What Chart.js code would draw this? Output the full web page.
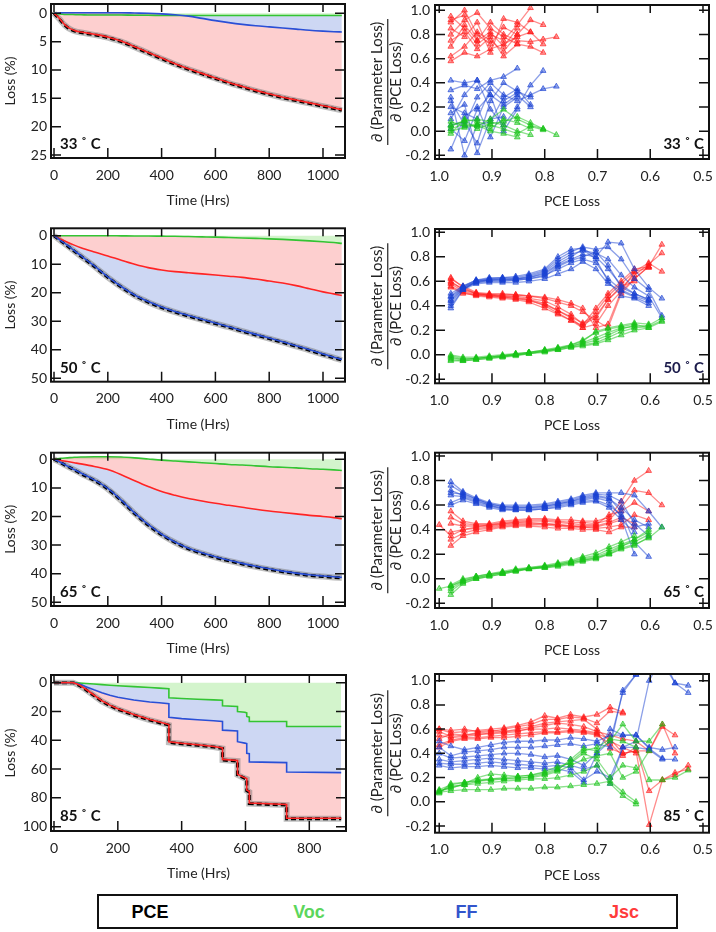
<!DOCTYPE html>
<html><head><meta charset="utf-8">
<script src="https://cdn.jsdelivr.net/npm/chart.js@4.4.1/dist/chart.umd.min.js"></script>
<style>
html,body{margin:0;padding:0;background:#fff;}
body{width:716px;height:932px;position:relative;overflow:hidden;font-family:Lato,sans-serif;}
canvas{position:absolute;}
.ann{position:absolute;font:bold 15px Lato,sans-serif;color:#111;line-height:18px;white-space:nowrap;transform:translateY(-50%);}
#legend{position:absolute;left:97px;top:894px;width:577px;height:31px;border:2px solid #111;box-sizing:content-box;}
#legend span{position:absolute;top:50%;transform:translate(-50%,-50%);font:bold 18px 'Liberation Sans',Arial,sans-serif;white-space:nowrap;}
</style></head>
<body>
<canvas id="c1l" width="355" height="215" style="left:0;top:0"></canvas>
<canvas id="c1r" width="361" height="215" style="left:355px;top:0"></canvas>
<canvas id="c2l" width="355" height="225" style="left:0;top:215px"></canvas>
<canvas id="c2r" width="361" height="225" style="left:355px;top:215px"></canvas>
<canvas id="c3l" width="355" height="220" style="left:0;top:440px"></canvas>
<canvas id="c3r" width="361" height="220" style="left:355px;top:440px"></canvas>
<canvas id="c4l" width="355" height="225" style="left:0;top:660px"></canvas>
<canvas id="c4r" width="361" height="225" style="left:355px;top:660px"></canvas>
<div id="anns"></div>
<div id="legend"></div>
<script>
// ---------- tick labels / categories ----------
const timeTicks = [0,200,400,600,800,1000];
const timeTicks85 = [0,200,400,600,800];
const lossTicks33 = [0,5,10,15,20,25];
const lossTicks50 = [0,10,20,30,40,50];
const lossTicks85 = [0,20,40,60,80,100];
const pceLossTicks = [1.0,0.9,0.8,0.7,0.6,0.5];
const ratioTicks = [-0.2,0.0,0.2,0.4,0.6,0.8,1.0];
const panelLabels = ['33 ˚ C','50 ˚ C','65 ˚ C','85 ˚ C'];
const legendLabels = ['PCE','Voc','FF','Jsc'];

// ---------- left panels: cumulative loss (%) vs time ----------
const t33 = [0,10,20,30,40,50,60,80,100,125,150,175,200,250,300,350,400,450,500,550,600,650,700,750,800,850,900,950,1000,1040,1070];
const pce33 = [0,0.5,1.0,1.6,2.1,2.5,2.8,3.2,3.4,3.6,3.8,4.0,4.3,5.0,6.0,7.0,8.0,9.0,9.9,10.7,11.5,12.3,13.0,13.7,14.3,14.9,15.4,15.9,16.4,16.8,17.1];
const voc33 = [0,0.05,0.1,0.15,0.2,0.2,0.2,0.25,0.25,0.3,0.3,0.3,0.3,0.3,0.35,0.35,0.4,0.4,0.4,0.4,0.4,0.4,0.4,0.4,0.4,0.4,0.4,0.4,0.4,0.4,0.4];
const ff33 = [0,0,-0.05,-0.1,-0.1,-0.1,-0.1,-0.1,-0.1,-0.1,-0.1,-0.1,-0.1,-0.1,-0.05,0,0.1,0.25,0.5,0.9,1.3,1.65,1.95,2.2,2.4,2.6,2.8,3.0,3.15,3.25,3.3];
const jsc33 = [0,0.4,0.9,1.5,2.0,2.4,2.7,3.1,3.3,3.5,3.7,3.9,4.2,4.9,5.9,6.9,7.9,8.9,9.8,10.6,11.4,12.2,12.9,13.6,14.2,14.8,15.3,15.8,16.3,16.7,17.0];

const t50 = [0,25,50,75,100,150,200,250,300,350,400,450,500,550,600,650,700,750,800,850,900,950,1000,1040,1070];
const pce50 = [0,1.8,3.6,5.4,7.2,10.8,14.6,18.0,21.0,23.3,25.2,26.8,28.2,29.5,30.8,32.1,33.5,34.8,36.1,37.4,38.8,40.2,41.7,42.8,43.6];
const voc50 = [0,0,0,0,0,0,0,0.05,0.1,0.1,0.15,0.2,0.3,0.4,0.5,0.65,0.8,0.95,1.1,1.3,1.55,1.8,2.1,2.4,2.7];
const jsc50 = [0,1.2,2.3,3.3,4.2,5.7,7.1,8.6,10.0,11.2,12.0,12.6,13.0,13.4,13.8,14.2,14.6,15.2,15.9,16.6,17.5,18.6,19.7,20.4,21.0];
const ff50 = [0,1.7,3.4,5.2,7.0,10.6,14.4,17.8,20.8,23.1,25.0,26.6,28.0,29.3,30.6,31.9,33.3,34.6,35.9,37.2,38.6,40.0,41.5,42.6,43.4];

const t65 = [0,25,50,75,100,150,200,250,300,350,400,450,500,550,600,650,700,750,800,850,900,950,1000,1040,1070];
const pce65 = [0,1.2,2.5,3.7,5.0,7.4,10.4,14.5,19.0,23.0,26.4,29.1,31.3,32.9,34.3,35.5,36.6,37.6,38.5,39.3,40.0,40.6,41.0,41.3,41.5];
const voc65 = [0,-0.3,-0.5,-0.7,-0.8,-0.9,-0.9,-0.8,-0.5,-0.1,0.3,0.6,0.9,1.2,1.5,1.8,2.0,2.3,2.6,2.8,3.0,3.3,3.5,3.7,3.9];
const jsc65 = [0,0.4,0.8,1.2,1.6,2.5,3.6,5.4,7.5,9.5,11.3,12.6,13.7,14.6,15.4,16.1,16.8,17.5,18.1,18.6,19.1,19.6,20.0,20.4,20.8];
const ff65 = [0,1.1,2.4,3.6,4.8,7.2,10.2,14.3,18.8,22.8,26.2,28.9,31.1,32.7,34.1,35.3,36.4,37.4,38.3,39.1,39.8,40.4,40.8,41.1,41.3];

const t85 = [0,60,80,100,125,150,175,200,250,300,330,360,360,400,450,500,528,528,575,575,598,604,604,612,612,729,729,900];
const pce85 = [0,0,2,5,9,13,16,18.5,22.5,26,27.8,29.5,41.5,42.5,43.5,44.7,45.7,53.7,54.5,64,66.5,67,75,76,84,85,94.5,94.5];
const voc85 = [0,0,0.3,0.6,1,1.4,1.8,2.2,2.8,3.4,3.8,4.2,10.5,11,11.5,12,12.2,16,16.5,20,20.5,21,23.5,24,27,27,30.5,30.5];
const ff85 = [0,0,1,2.8,5,7,8.8,10.2,12,13.4,14,14.6,24,25,25.8,26.5,27,33,33.5,41,42,42.3,49,49.3,55,55.5,62,62.5];
const jsc85 = [0,0,1.7,4.6,8.6,12.6,15.6,18.1,22.1,25.6,27.4,29.1,41.1,42.1,43.1,44.3,45.3,53.3,54.1,63.6,66.1,66.6,74.6,75.6,83.6,84.6,94.1,94.1];

// ---------- right panels: d(param loss)/d(PCE loss) vs normalized PCE ----------
const pce33x = [0.978,0.952,0.928,0.903,0.878,0.852,0.827,0.803,0.778];
const jscRatio33 = [
 [0.95,0.85,0.72,0.80,0.75,0.88,1.02],
 [0.90,1.00,0.80,0.72,0.86,0.80],
 [0.80,0.92,0.98,0.85,0.78,0.72,0.70,0.65],
 [0.70,0.88,0.75,0.90,0.80,0.75,0.74,0.76,0.78],
 [0.62,0.70,0.82,0.75,0.66,0.80,0.92,0.88],
 [0.58,0.65,0.62,0.68,0.72,0.78,0.82],
 [0.85,0.78,0.90,0.65,0.93,0.90,0.82,0.72],
 [0.92,0.96,0.75,0.82,0.70,0.85],
 [0.75,0.82,0.68,0.78,0.62,0.72]];
const ffRatio33 = [
 [0.42,0.40,0.42,0.30,0.22,0.30,0.20],
 [0.34,0.38,0.35,0.42,0.45,0.52],
 [0.25,0.05,0.28,0.40,0.30,0.25,0.30,0.35,0.37],
 [0.20,0.15,0.10,0.35,0.25,0.32],
 [0.10,0.30,0.42,0.18,0.05,0.20,0.38,0.50],
 [0.05,0.08,-0.10,0.25,0.40,0.33,0.28],
 [-0.15,0.12,0.20,-0.05,0.20,0.28],
 [0.02,-0.08,0.18,0.30,0.00,0.18],
 [0.15,0.22,-0.18,0.10,0.12],
 [0.28,-0.20,0.05,0.08,0.28,0.35,0.22]];
const vocRatio33 = [
 [0.05,0.08,0.10,0.08,0.05,0.00,-0.03],
 [0.02,0.06,0.04,0.10,0.18,0.10,0.05,0.02,-0.03],
 [-0.02,0.10,0.08,0.05,0.02,-0.02,0.04,0.01],
 [0.08,0.04,0.06,0.02,0.10,0.07,0.02],
 [0.00,0.03,0.05,0.00,-0.02,-0.05],
 [0.04,0.09,0.02,0.06,0.08,0.12,0.07,0.02]];

const pce50x = [0.978,0.955,0.93,0.905,0.88,0.855,0.83,0.8,0.775,0.75,0.728,0.703,0.68,0.655,0.63,0.603,0.578];
const ffRatio50 = [
 [0.38,0.53,0.58,0.59,0.59,0.59,0.60,0.62,0.66,0.70,0.76,0.70,0.58,0.52,0.47,0.42],
 [0.42,0.54,0.59,0.60,0.60,0.61,0.62,0.65,0.70,0.75,0.78,0.75,0.62,0.53,0.48,0.44],
 [0.45,0.55,0.60,0.61,0.61,0.62,0.63,0.66,0.73,0.78,0.82,0.80,0.70,0.57,0.50,0.45],
 [0.47,0.55,0.60,0.62,0.62,0.62,0.64,0.68,0.76,0.82,0.85,0.83,0.78,0.65,0.55,0.48,0.30],
 [0.48,0.56,0.61,0.62,0.63,0.63,0.65,0.69,0.78,0.84,0.88,0.86,0.88,0.78,0.62,0.53,0.32],
 [0.50,0.56,0.61,0.63,0.63,0.64,0.66,0.70,0.80,0.86,0.87,0.80,0.92,0.91,0.70,0.55,0.46],
 [0.44,0.54,0.59,0.61,0.62,0.62,0.63,0.67,0.74,0.80,0.86,0.78,0.60,0.48,0.46,0.40],
 [0.40,0.53,0.60,0.61,0.61,0.61,0.62,0.64,0.72,0.77,0.80,0.84,0.73,0.55,0.50,0.45]];
const jscRatio50 = [
 [0.63,0.55,0.50,0.49,0.48,0.47,0.45,0.42,0.36,0.30,0.22,0.25,0.40,0.52,0.62,0.72,0.90],
 [0.60,0.53,0.50,0.49,0.48,0.48,0.46,0.44,0.39,0.33,0.25,0.30,0.45,0.55,0.65,0.74,0.83],
 [0.58,0.52,0.49,0.48,0.47,0.46,0.45,0.40,0.34,0.28,0.22,0.35,0.48,0.58,0.68,0.75,0.68],
 [0.56,0.51,0.48,0.47,0.46,0.45,0.43,0.38,0.33,0.28,0.24,0.38,0.50,0.60,0.70,0.72],
 [0.62,0.56,0.51,0.50,0.50,0.49,0.48,0.46,0.43,0.40,0.35,0.28,0.22,0.50,0.62,0.72],
 [0.59,0.54,0.50,0.49,0.49,0.49,0.48,0.47,0.45,0.42,0.38,0.22,0.25,0.52,0.68,0.71],
 [0.55,0.50,0.49,0.48,0.47,0.46,0.44,0.41,0.36,0.31,0.26,0.32,0.45,0.56,0.60]];
const vocRatio50 = [
 [-0.05,-0.05,-0.04,-0.03,-0.02,-0.01,0.01,0.03,0.04,0.06,0.08,0.10,0.14,0.19,0.22,0.23,0.28],
 [-0.03,-0.04,-0.03,-0.02,-0.01,0.00,0.02,0.03,0.05,0.07,0.10,0.14,0.18,0.22,0.23,0.24,0.30],
 [-0.01,-0.03,-0.03,-0.02,-0.01,0.01,0.02,0.04,0.05,0.08,0.12,0.18,0.21,0.23,0.25,0.22,0.27],
 [-0.04,-0.05,-0.04,-0.03,-0.02,0.00,0.01,0.02,0.04,0.06,0.07,0.09,0.12,0.16,0.20,0.22],
 [0.00,-0.02,-0.02,-0.01,0.00,0.01,0.02,0.04,0.06,0.08,0.11,0.19,0.22,0.24,0.26,0.25],
 [-0.02,-0.04,-0.03,-0.02,-0.01,0.00,0.01,0.03,0.05,0.07,0.09,0.12,0.16,0.21,0.24]];

const pce65x = [1.0,0.978,0.955,0.93,0.905,0.88,0.855,0.83,0.8,0.775,0.75,0.728,0.703,0.678,0.655,0.63,0.603,0.578];
const ffRatio65 = [
 [null,0.79,0.71,0.66,0.62,0.60,0.60,0.60,0.61,0.63,0.65,0.68,0.70,0.70,0.70,0.68,0.55,0.42],
 [null,0.76,0.70,0.65,0.61,0.59,0.59,0.59,0.60,0.62,0.64,0.67,0.69,0.68,0.63,0.45,0.35],
 [null,0.72,0.68,0.64,0.60,0.58,0.58,0.58,0.59,0.61,0.63,0.66,0.68,0.66,0.55,0.30,0.18],
 [null,0.68,0.67,0.63,0.60,0.57,0.57,0.57,0.58,0.60,0.62,0.64,0.66,0.63,0.50,0.20],
 [null,0.62,0.66,0.62,0.59,0.57,0.56,0.56,0.57,0.59,0.61,0.63,0.64,0.60,0.52,0.42,0.45],
 [null,0.60,0.64,0.61,0.58,0.56,0.56,0.56,0.57,0.58,0.60,0.62,0.63,0.58,0.48,0.38],
 [null,0.70,0.69,0.65,0.61,0.59,0.58,0.58,0.59,0.61,0.63,0.65,0.67,0.65,0.58,0.48,0.42]];
const jscRatio65 = [
 [0.44,0.35,0.40,0.42,0.44,0.45,0.46,0.46,0.45,0.44,0.43,0.42,0.42,0.45,0.48],
 [null,0.55,0.47,0.45,0.45,0.47,0.48,0.49,0.49,0.48,0.48,0.47,0.47,0.50,0.63,0.80,0.88],
 [null,0.50,0.45,0.44,0.44,0.46,0.47,0.48,0.48,0.47,0.46,0.46,0.45,0.48,0.58,0.72,0.70,0.60],
 [null,0.45,0.43,0.43,0.43,0.45,0.46,0.47,0.47,0.46,0.45,0.44,0.44,0.52,0.55,0.62,0.55],
 [null,0.38,0.40,0.41,0.42,0.44,0.45,0.45,0.45,0.44,0.43,0.43,0.43,0.46,0.50,0.45],
 [null,0.32,0.37,0.40,0.41,0.43,0.44,0.44,0.44,0.43,0.42,0.42,0.41,0.42,0.44,0.52,0.48],
 [null,0.27,0.35,0.38,0.40,0.42,0.43,0.43,0.42,0.41,0.41,0.40,0.40,0.38,0.42,0.42]];
const vocRatio65 = [
 [-0.08,-0.06,-0.02,0.01,0.03,0.05,0.07,0.08,0.10,0.11,0.13,0.15,0.17,0.20,0.25,0.28,0.33,0.42],
 [null,-0.05,0.00,0.02,0.04,0.05,0.07,0.09,0.10,0.12,0.14,0.17,0.19,0.24,0.28,0.32,0.38],
 [null,-0.08,-0.02,0.01,0.03,0.05,0.07,0.08,0.10,0.12,0.14,0.16,0.18,0.22,0.27,0.30,0.36],
 [null,-0.10,-0.03,0.00,0.02,0.04,0.06,0.08,0.09,0.11,0.13,0.15,0.17,0.21,0.26,0.32,0.40],
 [null,-0.13,-0.04,0.00,0.02,0.04,0.06,0.08,0.09,0.10,0.12,0.14,0.16,0.20,0.24,0.27,0.34],
 [null,-0.06,-0.01,0.02,0.04,0.06,0.08,0.09,0.11,0.13,0.15,0.18,0.21,0.26,0.30,0.35]];

const pce85x = [1.0,0.978,0.952,0.927,0.902,0.877,0.851,0.826,0.8,0.776,0.751,0.726,0.701,0.676,0.652,0.627,0.602,0.577,0.553,0.528];
const ffRatio85 = [
 [0.50,0.46,0.43,0.45,0.47,0.49,0.50,0.50,0.51,0.51,0.53,0.52,0.50,0.55,0.55,0.55,0.45,0.43,0.45],
 [0.45,0.38,0.41,0.42,0.43,0.45,0.45,0.45,0.46,0.47,0.48,0.46,0.48,0.45,0.92,1.05],
 [0.40,0.36,0.37,0.38,0.39,0.40,0.40,0.39,0.37,0.38,0.35,0.30,0.40,0.50,0.90,1.05],
 [0.35,0.33,0.34,0.35,0.36,0.35,0.34,0.33,0.32,0.33,0.30,0.27,0.30,0.15,0.45,0.50,1.00,1.20,0.98,0.96],
 [0.32,0.31,0.31,0.32,0.33,0.32,0.31,0.30,0.29,0.30,0.28,0.18,0.25,0.20,0.45,0.45,0.43,0.35,0.35],
 [0.30,0.28,0.29,0.29,0.30,0.29,0.28,0.28,0.27,0.27,0.25,0.16,0.40,0.60,0.55,0.55,0.44,0.36],
 [null,null,null,null,null,null,null,null,null,null,null,null,null,null,null,null,null,1.15,0.98,0.90]];
const jscRatio85 = [
 [0.60,0.57,0.58,0.59,0.60,0.61,0.63,0.66,0.71,0.69,0.72,0.70,0.72,0.78,0.74],
 [0.58,0.54,0.55,0.57,0.58,0.60,0.62,0.64,0.68,0.68,0.70,0.69,0.65,0.75,0.73],
 [0.55,0.53,0.54,0.55,0.57,0.58,0.60,0.62,0.65,0.66,0.67,0.68,0.60,0.50,0.45,0.40],
 [0.52,0.56,0.55,0.56,0.56,0.57,0.58,0.61,0.63,0.65,0.64,0.62,0.58,0.55,0.52,0.50,0.42,0.62,0.55],
 [0.47,0.51,0.53,0.53,0.54,0.55,0.56,0.57,0.58,0.58,0.59,0.58,0.56,0.52,0.40,0.42,-0.19,0.18,0.22,0.30],
 [0.45,0.50,0.52,0.52,0.53,0.53,0.54,0.55,0.57,0.57,0.58,0.57,0.55,0.48,0.38,0.45,0.09,0.18,0.24,0.27],
 [0.60,0.59,0.60,0.58,0.59,0.58,0.59,0.60,0.60,0.61,0.60,0.59,0.57,0.44,0.40,0.42,0.42,0.64,0.40]];
const vocRatio85 = [
 [0.08,0.09,0.10,0.10,0.10,0.11,0.11,0.11,0.12,0.12,0.13,0.14,0.15,0.17,0.08,0.00],
 [0.08,0.13,0.14,0.15,0.16,0.17,0.18,0.19,0.19,0.20,0.22,0.25,0.30,0.15,0.05,-0.02],
 [0.07,0.15,0.16,0.18,0.19,0.19,0.20,0.20,0.22,0.25,0.30,0.35,0.38,0.40,0.20,0.25,0.42],
 [0.09,0.11,0.15,0.20,0.23,0.22,0.21,0.22,0.24,0.27,0.33,0.42,0.45,0.52,0.50,0.45,0.18,0.18,0.20,0.26],
 [0.09,0.12,0.14,0.17,0.18,0.19,0.19,0.21,0.23,0.26,0.35,0.44,0.42,0.50,0.64,0.50,0.50,0.64],
 [0.10,0.14,0.16,0.17,0.19,0.20,0.21,0.22,0.25,0.29,0.32,0.40,0.35,0.20,0.30,0.28]];

// ---------- styling ----------
const LINE = {voc:'#33c433', ff:'#2a4fd6', jsc:'#ff2424'};
const FILL = {voc:'rgba(140,225,120,0.38)', ff:'rgba(130,155,225,0.40)', jsc:'rgba(250,130,130,0.38)'};
const SCAT = {voc:'rgba(25,195,25,', ff:'rgba(25,65,210,', jsc:'rgba(255,25,25,'};
const FONT = 'Lato';
const pts = (xs, ys) => ys.map((y,i)=>({x:xs[i], y:y}));

function framePlugin(extra){
  return {id:'frame', afterDatasetsDraw(chart){
    const ctx = chart.ctx, a = chart.chartArea, x = chart.scales.x, y = chart.scales.y;
    ctx.save();
    ctx.strokeStyle = '#111'; ctx.lineWidth = 1.5;
    ctx.beginPath();
    x.ticks.forEach(tk=>{const p = x.getPixelForValue(tk.value);
      ctx.moveTo(p,a.bottom); ctx.lineTo(p,a.bottom-10); ctx.moveTo(p,a.top); ctx.lineTo(p,a.top+8);});
    y.ticks.forEach(tk=>{const p = y.getPixelForValue(tk.value);
      ctx.moveTo(a.left,p); ctx.lineTo(a.left+10,p); ctx.moveTo(a.right,p); ctx.lineTo(a.right-10,p);});
    ctx.stroke();
    ctx.lineWidth = 2;
    ctx.strokeRect(a.left, a.top, a.right-a.left, a.bottom-a.top);
    if (extra) extra(ctx, a);
    ctx.restore();
  }};
}

function axisOpts(o){
  return {
    type:'linear', min:o.min, max:o.max, reverse:!!o.reverse,
    grid:{display:false, drawTicks:false}, border:{display:false},
    ticks:{padding:o.labelPad, autoSkip:false, maxRotation:0, color:'#222',
      font:{family:FONT, size:14, lineHeight:1.2}, callback:o.fmt},
    title:{display:true, text:o.title, color:'#222',
      font:{family:FONT, size:o.titleSize||14, lineHeight:o.titleLH||1.35}, padding:o.titlePad},
    afterBuildTicks:(sc)=>{ sc.ticks = o.ticks.map(v=>({value:v})); },
    afterFit:(sc)=>{
      if (o.vertical){ sc.width = o.fit; sc.paddingTop = 0; sc.paddingBottom = 0; }
      else { sc.height = o.fit; sc.paddingLeft = 0; sc.paddingRight = 0; }
    }
  };
}

function baseOptions(cw, ch, box, xo, yo){
  return {
    responsive:false, animation:false, events:[], devicePixelRatio:1,
    layout:{padding:{left:0, top:box.t, right:cw-box.r, bottom:0}},
    plugins:{legend:{display:false}, tooltip:{enabled:false},
      filler:{drawTime:'beforeDatasetsDraw'}},
    scales:{x:xo, y:yo}
  };
}

function lossPanel(id, cw, ch, box, t, layers, pce, xr, yr, xTicks, yTicks, stepped){
  const interp = stepped ? {tension:0} : {cubicInterpolationMode:'monotone'};
  const ds = [];
  layers.forEach((L,i)=>{
    ds.push(Object.assign({data:pts(t,L.v), borderColor:LINE[L.k], borderWidth:1.6, pointRadius:0,
      fill: i===0 ? 'origin' : {target:i-1}, backgroundColor:FILL[L.k], order:3-i}, interp));
  });
  ds.push(Object.assign({data:pts(t,pce), borderColor:'rgba(110,110,110,0.45)', borderWidth:6, pointRadius:0, fill:false, order:20}, interp));
  ds.push(Object.assign({data:pts(t,pce), borderColor:'#000', borderWidth:3, borderDash:[5,3], pointRadius:0, fill:false, order:10}, interp));
  const lh = 14*1.35;
  const xo = axisOpts({min:xr[0], max:xr[1], ticks:xTicks, fmt:v=>String(v), title:'Time (Hrs)',
    titlePad:{top:0, bottom: ch - box.b - 42.5 - lh/2}, labelPad:8.6, fit: ch - box.b});
  const yo = axisOpts({min:yr[0], max:yr[1], reverse:true, ticks:yTicks, fmt:v=>String(v), title:'Loss (%)',
    titlePad:{top: 10 - lh/2, bottom:0}, labelPad:4, fit: box.l, vertical:true});
  new Chart(document.getElementById(id), {type:'line', data:{datasets:ds},
    options: baseOptions(cw, ch, box, xo, yo), plugins:[framePlugin()]});
}

function ratioPanel(id, cw, ch, box, xs, groups, yr){
  const ds = [];
  groups.forEach(g=>{
    g.lines.forEach(arr=>{
      ds.push({data:pts(xs,arr), borderColor:SCAT[g.k]+'0.5)', borderWidth:1.3,
        pointStyle:'triangle', pointRadius:3.3, pointBorderWidth:1,
        pointBackgroundColor:SCAT[g.k]+'0.45)', pointBorderColor:SCAT[g.k]+'0.65)',
        fill:false, tension:0, spanGaps:false});
    });
  });
  const tSize = 15, tLH = 1.3, lhT = tSize*tLH;
  const firstC = 22;
  const xo = axisOpts({min:0.4886, max:1.008, reverse:true, ticks:pceLossTicks, fmt:v=>v.toFixed(1), title:'PCE Loss',
    titlePad:{top:0, bottom: ch - box.b - 42.5 - 14*1.35/2}, labelPad:8.6, fit: ch - box.b});
  const yo = axisOpts({min:yr[0], max:yr[1], ticks:ratioTicks, fmt:v=>v.toFixed(1),
    title:['∂ (Parameter Loss)','∂ (PCE Loss)'], titleLH:tLH, titleSize:tSize,
    titlePad:{top: firstC - lhT/2, bottom:0}, labelPad:5, fit: box.l, vertical:true});
  const bar = (ctx, a)=>{ const cx = firstC + lhT/2 + 1, cy = (a.top+a.bottom)/2;
    ctx.strokeStyle='#222'; ctx.lineWidth=1.2; ctx.beginPath(); ctx.moveTo(cx, cy-63); ctx.lineTo(cx, cy+63); ctx.stroke(); };
  new Chart(document.getElementById(id), {type:'line', data:{datasets:ds},
    options: baseOptions(cw, ch, box, xo, yo), plugins:[framePlugin(bar)]});
}

// ---------- build left panels (canvas coords) ----------
lossPanel('c1l',355,215,{l:51,t:4,r:345,b:158}, t33,
  [{k:'voc',v:voc33},{k:'ff',v:ff33},{k:'jsc',v:jsc33}], pce33, [-11.2,1081.8], [-1.64,25.53], timeTicks, lossTicks33);
lossPanel('c2l',355,225,{l:51,t:13.3,r:345,b:166.7}, t50,
  [{k:'voc',v:voc50},{k:'jsc',v:jsc50},{k:'ff',v:ff50}], pce50, [-11.2,1081.8], [-2.6,51.2], timeTicks, lossTicks50);
lossPanel('c3l',355,220,{l:51,t:12.7,r:345,b:166}, t65,
  [{k:'voc',v:voc65},{k:'jsc',v:jsc65},{k:'ff',v:ff65}], pce65, [-11.2,1081.8], [-2.3,51.3], timeTicks, lossTicks50);
lossPanel('c4l',355,225,{l:51,t:15,r:346,b:171}, t85,
  [{k:'voc',v:voc85},{k:'ff',v:ff85},{k:'jsc',v:jsc85}], pce85, [-9.4,915], [-5.3,103], timeTicks85, lossTicks85, true);

// ---------- build right panels ----------
ratioPanel('c1r',361,215,{l:80,t:4,r:354,b:159}, pce33x,
  [{k:'voc',lines:vocRatio33},{k:'ff',lines:ffRatio33},{k:'jsc',lines:jscRatio33}], [-0.23,1.044]);
ratioPanel('c2r',361,225,{l:80,t:14,r:354,b:168.3}, pce50x,
  [{k:'voc',lines:vocRatio50},{k:'ff',lines:ffRatio50},{k:'jsc',lines:jscRatio50}], [-0.233,1.027]);
ratioPanel('c3r',361,220,{l:80,t:12.7,r:354,b:168}, pce65x,
  [{k:'voc',lines:vocRatio65},{k:'ff',lines:ffRatio65},{k:'jsc',lines:jscRatio65}], [-0.238,1.027]);
ratioPanel('c4r',361,225,{l:80,t:14,r:354,b:172.7}, pce85x,
  [{k:'voc',lines:vocRatio85},{k:'ff',lines:ffRatio85},{k:'jsc',lines:jscRatio85}], [-0.255,1.055]);

// ---------- panel annotations ----------
const annLeftY = [143, 366.7, 590.7, 815];
const annRightY = [142.7, 366.7, 590.7, 815];
const annWrap = document.getElementById('anns');
panelLabels.forEach((txt,i)=>{
  const a = document.createElement('div'); a.className='ann'; a.textContent = txt;
  a.style.left = '60px'; a.style.top = annLeftY[i]+'px'; annWrap.appendChild(a);
  const b = document.createElement('div'); b.className='ann'; b.textContent = txt;
  b.style.right = (716-704)+'px'; b.style.top = annRightY[i]+'px';
  if (i===1) b.style.color = '#1c1c4c';
  annWrap.appendChild(b);
});

// ---------- legend ----------
const legendColors = ['#000000','#5cd65c','#3355cc','#ff3b3b'];
const legendX = [150, 309, 466.5, 624];
const lg = document.getElementById('legend');
legendLabels.forEach((txt,i)=>{
  const s = document.createElement('span'); s.textContent = txt; s.style.color = legendColors[i];
  s.style.left = (legendX[i]-99)+'px'; lg.appendChild(s);
});
</script>
</body></html>
